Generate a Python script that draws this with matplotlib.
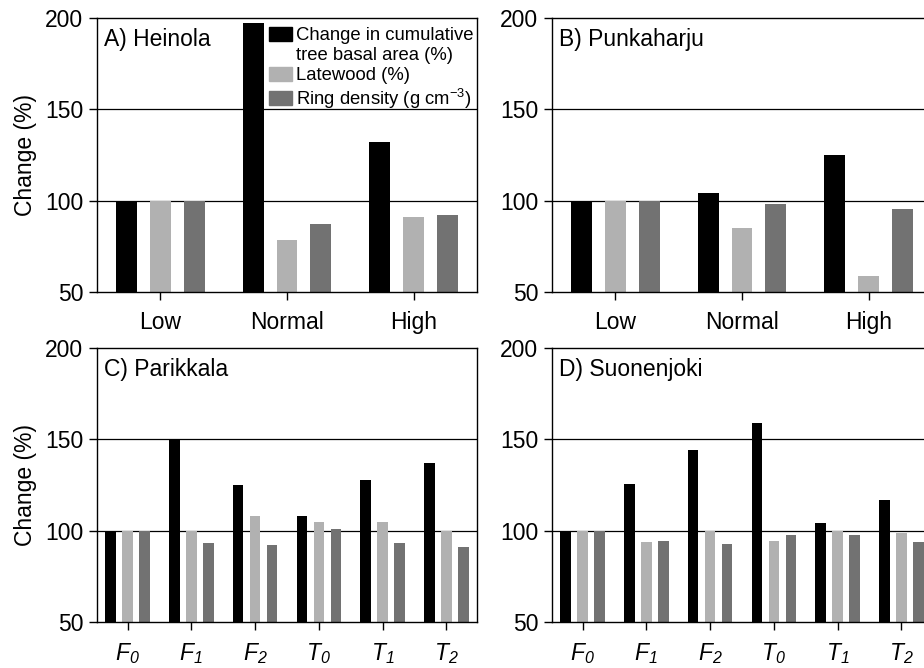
import matplotlib
matplotlib.use("Agg")
import matplotlib.pyplot as plt
from matplotlib.patches import Patch
import numpy as np

plt.rcParams['font.family'] = ['Liberation Sans', 'DejaVu Sans']
plt.rcParams['mathtext.fontset'] = 'custom'
plt.rcParams['mathtext.rm'] = 'Liberation Sans'
plt.rcParams['mathtext.it'] = 'Liberation Sans:italic'
plt.rcParams['mathtext.sf'] = 'Liberation Sans:italic'  # italic digits too

# categories
top_cats = ['Low', 'Normal', 'High']
bottom_cats = [r'$\mathsf{F}_{\mathsf{0}}$', r'$\mathsf{F}_{\mathsf{1}}$', r'$\mathsf{F}_{\mathsf{2}}$',
               r'$\mathsf{T}_{\mathsf{0}}$', r'$\mathsf{T}_{\mathsf{1}}$', r'$\mathsf{T}_{\mathsf{2}}$']

# A) Heinola
heinola_basal = [100, 197, 132]
heinola_latewood = [100, 78.5, 91]
heinola_density = [100, 87, 92]

# B) Punkaharju
punka_basal = [100, 104, 125]
punka_latewood = [100, 85, 59]
punka_density = [100, 98, 95.5]

# C) Parikkala
parik_basal = [100, 150, 125, 108, 128, 137]
parik_latewood = [100, 99.6, 108, 104.7, 104.7, 99.6]
parik_density = [100, 93.3, 92, 101, 93.3, 91]

# D) Suonenjoki
suon_basal = [100, 125.5, 144, 159, 104, 117]
suon_latewood = [100, 93.7, 100, 94.3, 99.6, 98.7]
suon_density = [100, 94.3, 92.5, 97.5, 97.5, 93.7]

labels = ['Change in cumulative', 'tree basal area (%)', 'Latewood (%)', 'Ring density (g cm$^{-3}$)']
colors = ['#000000', '#b1b1b1', '#727272']

W, H = 924, 668
fig = plt.figure(figsize=(W / 100, H / 100), dpi=100)


def make_ax(left, top, width=380, height=274):
    return fig.add_axes([left / W, 1 - (top + height) / H, width / W, height / H])


def draw_panel(ax, cats, basal, latewood, density, title, ylabel=False):
    x = np.arange(len(cats))
    width = 0.165
    off = 0.268
    ax.axhline(100, color='black', lw=0.9, zorder=0)
    ax.axhline(150, color='black', lw=0.9, zorder=0)
    ax.bar(x - off, basal, width, color=colors[0], zorder=2)
    ax.bar(x, latewood, width, color=colors[1], zorder=2)
    ax.bar(x + off, density, width, color=colors[2], zorder=2)
    ax.set_ylim(50, 200)
    ax.set_yticks([50, 100, 150, 200])
    ax.set_xticks(x)
    ax.set_xticklabels(cats)
    if len(cats) == 3:
        ax.set_xlim(-0.5, 2.5)
    else:
        ax.set_xlim(-0.48, 5.48)
    ax.tick_params(axis='both', direction='out', length=6, width=1, labelsize=16.5, pad=4)
    ax.tick_params(axis='x', pad=8)
    for s in ax.spines.values():
        s.set_linewidth(1)
    ax.text(0.018, 0.962, title, transform=ax.transAxes, ha='left', va='top', fontsize=16.5)
    if ylabel:
        ax.set_ylabel('Change (%)', fontsize=16.5, labelpad=6)


axA = make_ax(97, 18)
draw_panel(axA, top_cats, heinola_basal, heinola_latewood, heinola_density, 'A) Heinola', ylabel=True)
axB = make_ax(552, 18)
draw_panel(axB, top_cats, punka_basal, punka_latewood, punka_density, 'B) Punkaharju')
axC = make_ax(97, 348)
draw_panel(axC, bottom_cats, parik_basal, parik_latewood, parik_density, 'C) Parikkala', ylabel=True)
axD = make_ax(552, 348)
draw_panel(axD, bottom_cats, suon_basal, suon_latewood, suon_density, 'D) Suonenjoki')

handles = [Patch(color=colors[0]), Patch(color='none'), Patch(color=colors[1]), Patch(color=colors[2])]
axA.legend(handles, labels, loc='upper left', bbox_to_anchor=(0.452, 0.968), frameon=False,
           fontsize=13.3, borderpad=0, borderaxespad=0, handlelength=1.25, handleheight=0.8,
           handletextpad=0.25, labelspacing=0.13)

fig.savefig('out.png', dpi=100)
